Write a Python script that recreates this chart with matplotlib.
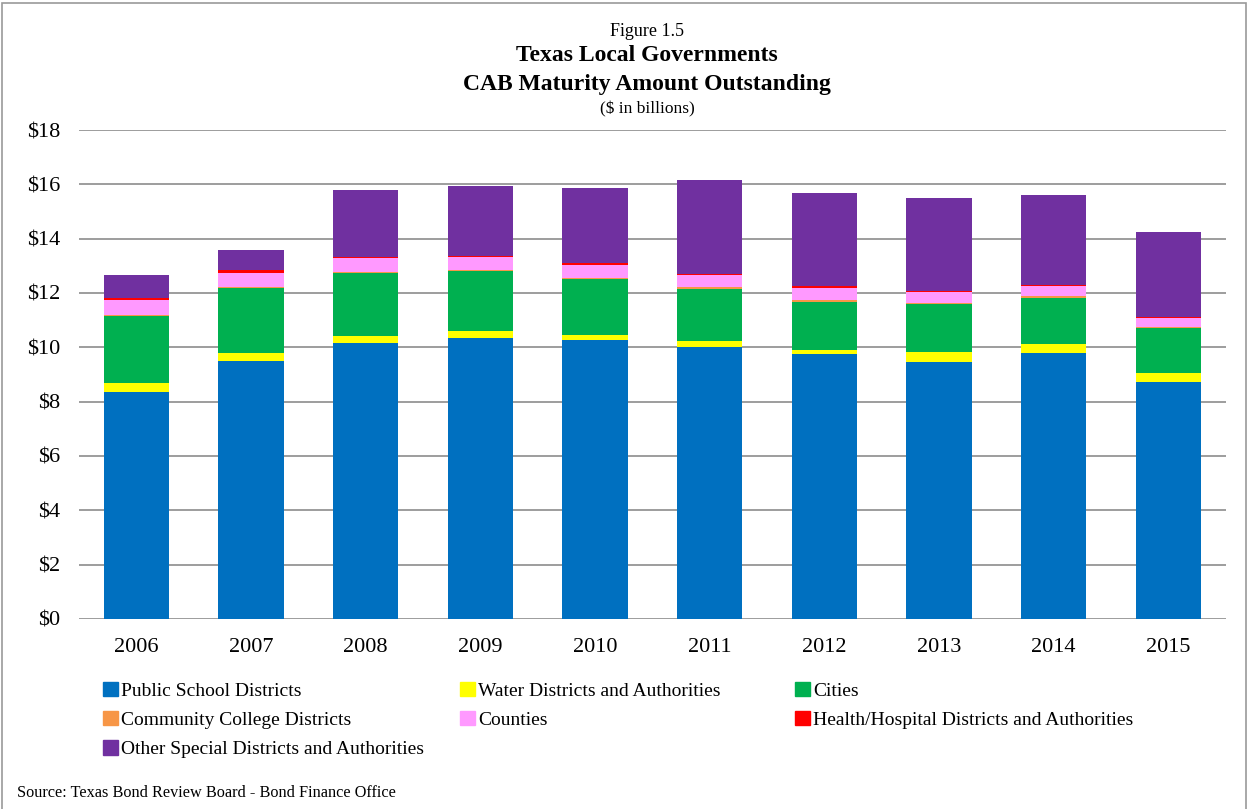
import numpy as np
import matplotlib.pyplot as plt
from matplotlib.patches import Patch, Rectangle

plt.rcParams['font.family'] = ['Liberation Serif', 'DejaVu Serif']

years = ['2006', '2007', '2008', '2009', '2010', '2011', '2012', '2013', '2014', '2015']

# $ billions by issuer type
public_school = [8.37, 9.51, 10.17, 10.35, 10.26, 10.02, 9.74, 9.46, 9.79, 8.71]
water = [0.30, 0.28, 0.23, 0.24, 0.19, 0.20, 0.15, 0.37, 0.33, 0.34]
cities = [2.49, 2.40, 2.35, 2.21, 2.05, 1.91, 1.78, 1.75, 1.68, 1.65]
community_college = [0.04, 0.04, 0.03, 0.03, 0.06, 0.10, 0.08, 0.04, 0.10, 0.04]
counties = [0.53, 0.52, 0.50, 0.48, 0.48, 0.42, 0.44, 0.43, 0.34, 0.33]
health = [0.07, 0.08, 0.04, 0.05, 0.05, 0.05, 0.07, 0.01, 0.06, 0.06]
other_special = [0.85, 0.76, 2.47, 2.59, 2.76, 3.47, 3.41, 3.43, 3.32, 3.11]

series = [
    ("Public School Districts", public_school, "#0070C0"),
    ("Water Districts and Authorities", water, "#FFFF00"),
    ("Cities", cities, "#00B050"),
    ("Community College Districts", community_college, "#F79646"),
    ("Counties", counties, "#FF99FF"),
    ("Health/Hospital Districts and Authorities", health, "#FF0000"),
    ("Other Special Districts and Authorities", other_special, "#7030A0"),
]

fig = plt.figure(figsize=(12.47, 8.09), dpi=100)
ax = fig.add_axes([0.0634, 0.2349, 0.9194, 0.6044])

x = np.arange(len(years))
bottom = np.zeros(len(years))
for name, vals, col in series:
    ax.bar(x, vals, width=0.57, bottom=bottom, color=col, label=name,
           linewidth=0, zorder=3)
    bottom += np.array(vals)

ax.set_ylim(0, 18)
ax.set_xlim(-0.5, 9.5)
ax.set_yticks(range(0, 19, 2))
ax.set_yticklabels(["${}".format(v) for v in range(0, 19, 2)])
ax.set_xticks(x)
ax.set_xticklabels(years)
ax.tick_params(axis='y', length=0, pad=13.5, labelsize=16)
ax.tick_params(axis='x', length=0, pad=14, labelsize=16)
ax.yaxis.grid(True, color="#8c8c8c", linewidth=1.2, zorder=0)
for s in ax.spines.values():
    s.set_visible(False)

# titles
tx = 0.519
fig.text(tx, 0.961, "Figure 1.5", ha='center', va='center', fontsize=13)
fig.text(tx, 0.931, "Texas Local Governments", ha='center', va='center',
         fontsize=17, fontweight='bold')
fig.text(tx, 0.896, "CAB Maturity Amount Outstanding", ha='center', va='center',
         fontsize=17, fontweight='bold')
fig.text(tx, 0.865, "($ in billions)", ha='center', va='center', fontsize=12.5)

# legend in three columns
handles = {name: Patch(color=col) for name, vals, col in series}
columns = [
    (0.0826, ["Public School Districts", "Community College Districts",
              "Other Special Districts and Authorities"]),
    (0.3689, ["Water Districts and Authorities", "Counties"]),
    (0.6375, ["Cities", "Health/Hospital Districts and Authorities"]),
]
for xpos, names in columns:
    leg = fig.legend([handles[n] for n in names], names, loc='upper left',
                     bbox_to_anchor=(xpos, 0.157), frameon=False, fontsize=14,
                     handlelength=0.75, handleheight=0.75, handletextpad=0.2,
                     labelspacing=0.58, borderaxespad=0, borderpad=0)

fig.text(0.014, 0.0198, "Source: Texas Bond Review Board - Bond Finance Office",
         fontsize=11.7, ha='left', va='center')

# outer frame
fig.patches.append(Rectangle((0.002, -0.01), 0.997, 1.006, transform=fig.transFigure,
                             fill=False, edgecolor="#9a9a9a", linewidth=1.2))

fig.savefig("out.png", dpi=100)
